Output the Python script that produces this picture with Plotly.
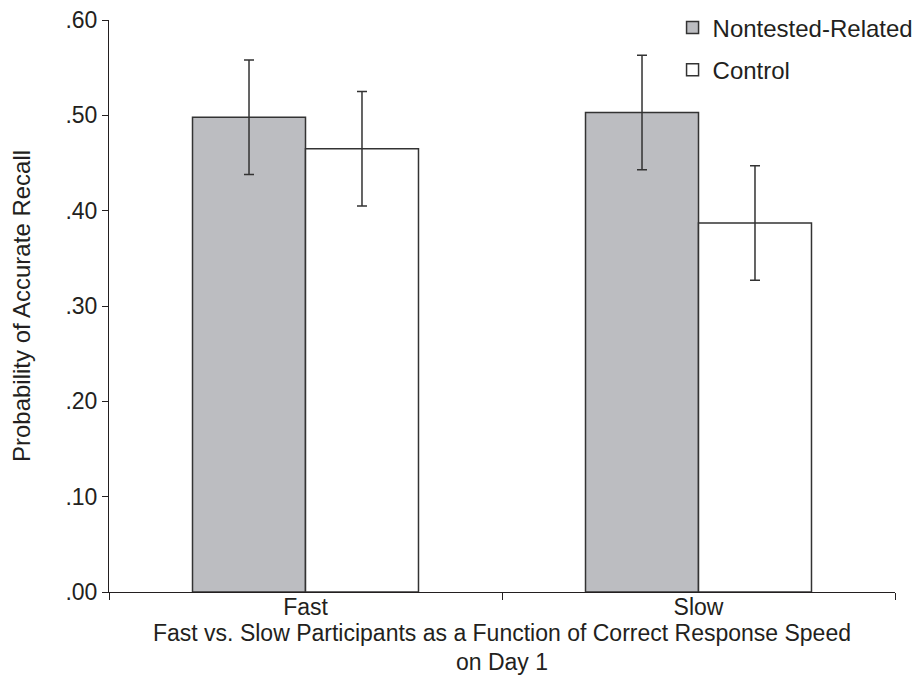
import plotly.graph_objects as go

categories = ["Fast", "Slow"]
series_names = ["Nontested-Related", "Control"]
nontested_related = [0.498, 0.503]
control = [0.465, 0.387]
nontested_err = [0.060, 0.060]
control_err = [0.060, 0.060]
y_tick_vals = [0.0, 0.1, 0.2, 0.3, 0.4, 0.5, 0.6]
y_tick_text = [".00", ".10", ".20", ".30", ".40", ".50", ".60"]

FONT = "Liberation Sans, Arial, sans-serif"
INK = "#231f20"

fig = go.Figure()
fig.add_trace(go.Bar(
    name=series_names[0], x=categories, y=nontested_related,
    marker=dict(color="#bcbdc1", line=dict(color="#333333", width=1.5)),
    error_y=dict(type="data", array=nontested_err, color="#333333", thickness=1.5, width=5),
    legendgroup="a",
))
fig.add_trace(go.Bar(
    name=series_names[1], x=categories, y=control,
    marker=dict(color="#ffffff", line=dict(color="#333333", width=1.5)),
    error_y=dict(type="data", array=control_err, color="#333333", thickness=1.5, width=5),
    legendgroup="b",
))

fig.update_layout(
    width=917, height=694,
    margin=dict(l=109, r=22, t=20, b=102, autoexpand=False),
    paper_bgcolor="white", plot_bgcolor="white",
    font=dict(family=FONT, size=23, color=INK),
    barmode="group", bargap=0.425, bargroupgap=0,
    showlegend=True,
    legend=dict(x=0.717, y=1.0255, xanchor="left", yanchor="top",
                bgcolor="rgba(0,0,0,0)", font=dict(size=24, color=INK),
                tracegroupgap=8, traceorder="grouped"),
    xaxis=dict(
        showline=True, linecolor="#231f20", linewidth=1,
        ticks="outside", ticklen=7, tickcolor="#231f20", tickson="boundaries",
        showgrid=False, zeroline=False,
        tickfont=dict(size=23), ticklabelstandoff=-6,
        title=dict(text="Fast vs. Slow Participants as a Function of Correct Response Speed<br>on Day 1",
                   font=dict(size=23), standoff=2),
    ),
    yaxis=dict(
        range=[0, 0.6], showline=True, linecolor="#231f20", linewidth=1,
        ticks="outside", ticklen=6, tickcolor="#231f20",
        tickvals=y_tick_vals, ticktext=y_tick_text,
        showgrid=False, zeroline=False,
        tickfont=dict(size=23),
        title=dict(text="Probability of Accurate Recall", font=dict(size=24), standoff=28),
    ),
)

fig.write_html("out.html")
